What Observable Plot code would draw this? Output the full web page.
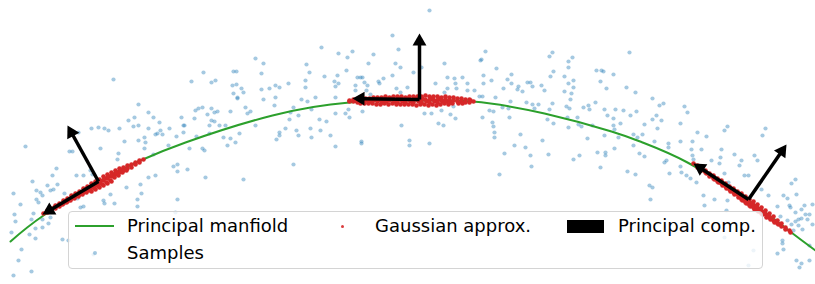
<!DOCTYPE html>
<html>
<head>
<meta charset="utf-8">
<script src="https://cdn.jsdelivr.net/npm/d3@7"></script>
<script src="https://cdn.jsdelivr.net/npm/@observablehq/plot@0.6"></script>
<style>
  body { margin: 0; background: #fff; font-family: "DejaVu Sans", sans-serif; }
  #wrap { position: relative; width: 815px; height: 284px; }
  #legend { position: absolute; left: 68px; top: 211px; width: 693px; height: 56px;
            border: 1px solid #d4d4d4; border-radius: 4px; background: rgba(255,255,255,0.8); }
  .lbl { position: absolute; font-size: 18px; line-height: 18px; color: #000; white-space: nowrap; transform: translateY(-50%); }
  .h { position: absolute; }
</style>
</head>
<body>
<div id="wrap"><div id="chart"></div><div id="legend"></div></div>
<script>
// Coordinates: origin at the peak of the manifold, y upward.
const manifoldX = [-402, -369, -312, -272, -227, -140, -63, 0, 60, 132, 199, 230, 275, 335, 375, 403];
const manifoldY = [-141, -115, -80, -60, -42, -15, -2, 0, -1, -13, -31, -42, -62, -99, -129, -150];

const samples = [
[-157,42],[-149,37],[-179,29],[-176,29],[-209,28],[-151,27],[-221,19],[-201,18],[-197,20],[-299,21],
[-180,15],[-176,16],[-171,12],[-151,11],[-143,12],[-179,7],[-169,8],[-175,3],[-175,2],[-149,1],
[-274,-4],[-214,-8],[-210,-7],[-217,-10],[-201,-8],[-195,-11],[-167,-7],[-162,-11],[-165,-13],[-182,-11],
[-205,-14],[-198,-12],[-264,-12],[-278,-17],[-259,-17],[-231,-17],[-218,-18],[-284,-20],[-253,-22],[-201,-20],
[-198,-21],[-203,-25],[-193,-25],[-187,-25],[-157,-25],[-279,-26],[-274,-25],[-229,-25],[-228,-25],[-264,-28],
[-321,-28],[-314,-27],[-308,-28],[-304,-30],[-293,-28],[-243,-28],[-229,-32],[-252,-30],[-255,-33],[-250,-34],
[-257,-34],[-334,-32],[-236,-36],[-268,-37],[-274,-40],[-288,-41],[-216,-36],[-189,-37],[-182,-38],[-173,-33],
[-177,-42],[-203,-33],
[17,90],[-20,65],[-91,53],[-14,51],[-60,49],[-74,47],[-39,46],[-65,43],[-44,37],[-17,37],
[-12,33],[-106,36],[-103,28],[-66,30],[1,28],[9,33],[-88,24],[-75,25],[-55,23],[-52,23],
[-50,23],[-29,22],[-20,25],[-107,20],[-124,17],[-137,15],[-133,13],[-107,13],[-78,19],[-74,17],
[-77,14],[-57,15],[-48,18],[-45,15],[-34,19],[-33,17],[-57,10],[-46,10],[-42,6],[-16,12],
[-12,8],[-5,13],[-77,3],[-97,3],[-105,-1],[-111,1],[-137,3],[-138,-5],[-119,-7],[-101,-9],
[-64,-9],[-77,-13],[-67,-13],[-63,-17],[-50,-11],[-32,-3],[-122,-12],[-114,-15],[-123,-19],[-93,-19],
[-86,-21],[-127,-28],[-116,-30],[-102,-28],[-92,-30],[-133,-32],[-133,-35],[-114,-35],[-82,-35],[-101,-37],
[-136,-39],[-51,-41],[-3,-40],[-11,-25],[12,-13],[19,-13],[26,-23],[31,-25],[38,-14],[43,-18],
[29,-10],[41,-6],[32,37],[23,17],[35,23],[42,22],[35,12],[43,17],[44,12],[55,17],
[55,10],[50,23],[32,8],[62,10],[67,4],[70,4],[73,49],[69,41],[68,40],[71,25],
[71,17],[79,20],[84,32],[95,21],[99,26],[91,12],[99,17],[105,11],[106,14],[115,18],
[118,18],[120,14],[129,15],[110,9],[83,3],[98,-1],[114,-2],[96,-8],[90,-7],[77,-10],
[70,-17],[81,-11],[120,-4],[126,-4],[122,-8],[97,-17],[80,-22],[81,-26],[82,-32],[82,-37],
[108,-34],[130,-40],
[137,44],[140,48],[217,48],[156,39],[160,43],[156,33],[141,29],[138,24],[184,30],[189,30],
[191,29],[201,26],[152,24],[161,20],[156,17],[188,19],[161,13],[132,10],[152,9],[159,7],
[194,12],[214,13],[223,8],[158,1],[140,-3],[183,-2],[240,2],[247,-5],[251,-3],[272,-6],
[275,-12],[154,-6],[157,-8],[137,-9],[171,-7],[176,-5],[177,-9],[192,-9],[203,-9],[211,-10],
[224,-11],[195,-15],[218,-15],[244,-15],[135,-19],[155,-17],[165,-17],[201,-18],[240,-19],[249,-20],
[141,-23],[166,-24],[169,-26],[180,-25],[201,-25],[208,-23],[232,-24],[268,-23],[156,-27],[202,-29],
[245,-28],[315,-26],[312,-30],[353,-28],[285,-32],[294,-36],[350,-35],[192,-35],[221,-34],[230,-34],
[175,-38],[206,-37],[225,-37],[242,-41],[268,-41],[280,-41],
[-387,-46],[-343,-51],[-340,-51],[-312,-48],[-294,-53],[-295,-59],[-268,-48],[-259,-54],[-244,-45],[-356,-68],
[-360,-75],[-336,-75],[-322,-70],[-329,-75],[-320,-74],[-355,-84],[-380,-81],[-365,-85],[-359,-89],[-362,-90],
[-372,-92],[-376,-90],[-370,-95],[-348,-93],[-399,-93],[-376,-99],[-374,-102],[-392,-104],[-379,-113],[-398,-114],
[-397,-121],[-381,-119],[-370,-119],[-377,-128],[-370,-127],[-362,-117],[-364,-123],[-383,-134],[-377,-138],[-401,-132],
[-391,-149],[-394,-160],[-381,-171],[-399,-175],[-350,-139],[-344,-140],[-319,-154],[-332,-107],[-329,-106],[-335,-98],
[-302,-94],[-309,-100],[-308,-103],[-298,-103],[-286,-87],[-275,-99],[-275,-106],[-272,-84],[-271,-93],[-257,-75],
[-264,-77],[-239,-66],[-235,-64],[-235,-71],[-225,-69],[-235,-99],[-237,-112],[-223,-48],[-210,-48],[-208,-50],
[-207,-77],[-185,-45],[-169,-79],[-267,-42],
[-119,-64],[-77,-46],[-51,-43],[-3,-45],[17,-43],[92,-53],[102,-45],[113,-47],[118,-55],[119,-66],[87,-74],
[136,-54],[167,-55],[161,-59],[185,-52],[193,-52],[193,-55],[202,-48],[221,-45],[227,-53],[232,-56],
[188,-67],[215,-71],[223,-74],[237,-85],[240,-87],[238,-99],[256,-43],[256,-47],[252,-62],[254,-60],
[257,-73],[268,-66],[269,-72],[274,-75],[278,-78],[284,-82],[279,-49],[280,-55],[281,-59],[289,-49],
[299,-60],[309,-49],[308,-57],[307,-63],[312,-73],[316,-82],[318,-89],[315,-100],[322,-54],[329,-60],
[327,-65],[342,-55],[345,-60],[332,-75],[336,-75],[314,-110],[291,-95],[302,-99],[292,-105],[349,-89],
[356,-95],[365,-106],[371,-95],[375,-98],[377,-105],[379,-83],[384,-94],[378,-107],[392,-105],[389,-109],
[393,-114],[397,-114],[395,-119],[400,-104],[383,-112],[386,-119],[383,-121],[375,-120],[368,-116],[379,-124],
[386,-125],[389,-118],[383,-79],[400,-124],[381,-130],[390,-129],[370,-143],[365,-153],[371,-149],[384,-160],
[389,-163],[397,-160],[387,-167],[370,-140],[312,-137],[341,-150],[336,-165],[397,-145]
];

const gaussLeft = [
[-369,-113],[-365,-110],[-365,-112],[-361,-108],[-361,-110],[-357,-105],[-357,-108],[-358,-107],
[-353,-103],[-353,-106],[-354,-105],[-349,-100],[-349,-103],[-350,-104],
[-345,-98],[-345,-101],[-346,-102],[-344,-99],[-341,-95],[-341,-98],[-342,-100],[-340,-97],
[-337,-93],[-337,-96],[-338,-98],[-336,-94],[-333,-91],[-333,-94],[-334,-96],[-332,-92],
[-329,-88],[-329,-92],[-330,-94],[-328,-90],[-325,-86],[-325,-90],[-326,-92],[-324,-88],
[-321,-83],[-321,-87],[-322,-90],[-320,-85],[-321,-91],[-317,-81],[-317,-85],[-318,-88],[-316,-83],[-317,-89],
[-313,-79],[-313,-83],[-314,-86],[-312,-81],[-313,-87],[-309,-76],[-309,-80],[-310,-84],[-308,-78],[-309,-85],
[-305,-74],[-305,-78],[-306,-82],[-304,-76],[-305,-83],[-301,-72],[-301,-76],[-302,-80],[-300,-74],[-301,-81],
[-297,-70],[-297,-74],[-298,-77],[-296,-72],[-293,-68],[-293,-72],[-294,-75],[-292,-70],
[-289,-67],[-289,-70],[-290,-72],[-285,-65],[-285,-68],[-286,-70],[-281,-64],[-281,-67],
[-277,-62],[-277,-64],[-273,-60],[-273,-62],[-269,-59]
];

const gaussTop = [
[-63,0],[-63,-1],[-59,1],[-59,-1],[-55,1],[-55,-2],[-56,0],[-51,2],[-51,-1],[-52,-3],
[-47,2],[-47,0],[-48,-3],[-43,2],[-43,-1],[-44,-3],[-39,3],[-39,0],[-40,-3],[-38,1],
[-35,3],[-35,-1],[-36,-4],[-34,1],[-31,3],[-31,0],[-32,-4],[-30,-2],[-27,4],[-27,1],[-28,-3],[-26,-1],
[-23,3],[-23,0],[-24,-4],[-22,2],[-19,4],[-19,1],[-20,-3],[-18,-1],[-15,4],[-15,0],[-16,-4],[-14,2],[-15,-2],
[-11,4],[-11,1],[-12,-4],[-10,-1],[-7,3],[-7,0],[-8,-4],[-6,2],[-7,-2],[-3,4],[-3,1],[-4,-4],[-2,-1],
[1,4],[1,0],[0,-4],[2,2],[1,-2],[5,4],[5,1],[4,-5],[6,-1],[9,4],[9,0],[8,-4],[10,2],[9,-2],
[13,5],[13,1],[12,-4],[14,-1],[17,4],[17,0],[16,-5],[18,2],[17,-2],[21,4],[21,1],[20,-4],[22,-1],
[25,4],[25,0],[24,-5],[26,2],[25,-2],[29,3],[29,0],[28,-4],[30,-1],[33,4],[33,1],[32,-3],[34,-1],
[37,3],[37,0],[36,-4],[38,-2],[41,3],[41,0],[40,-3],[45,2],[45,-1],[46,-3],[49,2],[49,-1],[50,-3],
[53,1],[53,-2],[57,1],[57,-2],[58,0],[61,-1]
];

const gaussRight = [
[281,-63],[285,-65],[285,-67],[289,-68],[289,-70],[293,-70],[293,-72],[294,-73],
[297,-73],[297,-76],[298,-75],[301,-75],[301,-78],[302,-79],[305,-78],[305,-81],[306,-82],
[309,-80],[309,-83],[310,-85],[308,-82],[313,-83],[313,-86],[314,-88],[312,-84],
[317,-86],[317,-89],[318,-91],[316,-87],[321,-88],[321,-92],[322,-94],[320,-90],
[325,-91],[325,-94],[326,-97],[324,-93],[329,-93],[329,-97],[330,-100],[328,-95],[329,-99],
[333,-96],[333,-100],[334,-103],[332,-98],[333,-102],[337,-99],[337,-103],[338,-106],[336,-101],[337,-105],
[341,-101],[341,-105],[342,-109],[340,-103],[341,-107],[345,-104],[345,-108],[346,-111],[344,-106],[345,-110],
[349,-107],[349,-111],[350,-114],[348,-109],[349,-113],[353,-110],[353,-114],[354,-117],[352,-112],
[357,-113],[357,-117],[358,-119],[356,-115],[361,-116],[361,-120],[362,-122],
[365,-120],[365,-123],[366,-124],[369,-123],[369,-126],[373,-127],[373,-129],[377,-130],[378,-132]
];

// Principal components: origin (Gaussian mean) and tip of each arrow
const compOriginX = [-314, -314, 7, 7, 336, 336];
const compOriginY = [-81, -81, 1, 1, -99, -99];
const compTipX = [-370, -345, -60, 7, 281, 374];
const compTipY = [-114, -25, 2, 67, -63, -44];

const legendLabels = ["Principal manfiold", "Samples", "Gaussian approx.", "Principal comp."];

const colors = {manifold: "#2ca02c", samples: "#1f77b4", gauss: "#d62728", comp: "#000000"};

const manifold = manifoldX.map((x, i) => ({x, y: manifoldY[i]}));
const samplePts = samples.map(([x, y]) => ({x, y}));
const gaussPts = [...gaussLeft, ...gaussTop, ...gaussRight].map(([x, y]) => ({x, y}));

const HEAD = 12;
const arrows = compOriginX.map((ox, i) => {
  const oy = compOriginY[i], tx = compTipX[i], ty = compTipY[i];
  const dx = tx - ox, dy = ty - oy, len = Math.hypot(dx, dy);
  const ux = dx / len, uy = dy / len;
  return {
    ox, oy,
    sx: tx - ux * (HEAD - 2), sy: ty - uy * (HEAD - 2),
    hx: tx - ux * HEAD * 2 / 3, hy: ty - uy * HEAD * 2 / 3,
    angle: Math.atan2(dx, dy) * 180 / Math.PI
  };
});
const headR = Math.sqrt(3 * Math.sqrt(3) * (HEAD / 3) ** 2 / Math.PI);

const chart = Plot.plot({
  width: 815,
  height: 284,
  marginTop: 0, marginRight: 0, marginBottom: 0, marginLeft: 0,
  x: {domain: [-412, 403], axis: null},
  y: {domain: [-184, 100], axis: null},
  style: {background: "white"},
  marks: [
    Plot.dot(samplePts, {x: "x", y: "y", r: 2.1, fill: colors.samples, fillOpacity: 0.4, stroke: "none"}),
    Plot.line(manifold, {x: "x", y: "y", stroke: colors.manifold, strokeWidth: 2, curve: "natural"}),
    Plot.dot(gaussPts, {x: "x", y: "y", r: 2.3, fill: colors.gauss, fillOpacity: 1, stroke: "none"}),
    Plot.link(arrows, {x1: "ox", y1: "oy", x2: "sx", y2: "sy", stroke: colors.comp, strokeWidth: 3.5}),
    Plot.dot(arrows, {x: "hx", y: "hy", symbol: "triangle", r: headR, rotate: "angle", fill: colors.comp, stroke: "none"})
  ]
});
document.getElementById("chart").appendChild(chart);

// Legend (matplotlib-style, inside the axes)
const lg = document.getElementById("legend");
function add(html) { lg.insertAdjacentHTML("beforeend", html); }
add(`<div class="h" style="left:6px;top:13px;width:39px;height:2px;background:${colors.manifold}"></div>`);
add(`<div class="lbl" style="left:58px;top:14px">${legendLabels[0]}</div>`);
add(`<div class="h" style="left:24px;top:39px;width:4px;height:4px;border-radius:50%;background:${colors.samples};opacity:0.4"></div>`);
add(`<div class="lbl" style="left:58px;top:41px">${legendLabels[1]}</div>`);
add(`<div class="h" style="left:272px;top:13px;width:3px;height:3px;border-radius:50%;background:${colors.gauss};opacity:0.9"></div>`);
add(`<div class="lbl" style="left:306px;top:14px">${legendLabels[2]}</div>`);
add(`<div class="h" style="left:498px;top:8px;width:37px;height:13px;background:${colors.comp}"></div>`);
add(`<div class="lbl" style="left:549px;top:14px">${legendLabels[3]}</div>`);
</script>
</body>
</html>
